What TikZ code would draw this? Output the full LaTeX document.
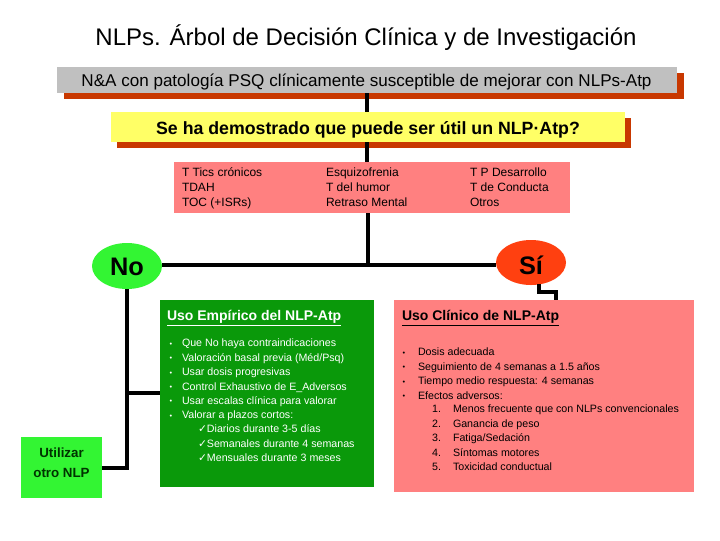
\documentclass[tikz,border=0pt]{standalone}
\usepackage{fontspec}
\setmainfont{Liberation Sans}
\newfontfamily\dejavu{DejaVu Sans}
\usetikzlibrary{shapes.geometric,calc}
\definecolor{grayBox}{RGB}{192,192,192}
\definecolor{shadowRed}{RGB}{200,56,0}
\definecolor{yellowBox}{RGB}{255,255,102}
\definecolor{pinkBox}{RGB}{255,128,128}
\definecolor{noGreen}{RGB}{51,245,51}
\definecolor{siRed}{RGB}{255,64,16}
\definecolor{darkGreen}{RGB}{10,153,10}
\definecolor{textGreen}{RGB}{0,51,0}
\begin{document}
\begin{tikzpicture}[x=0.75pt,y=-0.75pt,
  conn/.style={line width=2.4pt},
  box/.style={rectangle,draw=none,inner sep=0pt,outer sep=0pt},
  oval/.style={ellipse,draw=none,inner sep=0pt,outer sep=0pt,minimum width=52.5pt,minimum height=34.5pt},
  lbl/.style={inner sep=0pt,outer sep=0pt,text depth=0pt},
  ovtxt/.style={lbl,text height=13.7pt,font=\fontsize{19}{22}\selectfont\bfseries},
  txt/.style={lbl,anchor=west},
  body/.style={txt,text height=5.8pt,font=\fontsize{8}{9.6}\selectfont},
  small/.style={txt,text height=6.5pt,font=\fontsize{9}{11}\selectfont},
  bul/.style={inner sep=0pt,outer sep=0pt,font=\fontsize{5.5}{6}\selectfont},
  num/.style={lbl,anchor=east,text height=5.8pt,font=\fontsize{8}{9.6}\selectfont},
  head/.style={txt,text height=7.6pt,font=\fontsize{10.5}{12}\selectfont\bfseries}]
\useasboundingbox (0,0) rectangle (720,540);
\fill[white] (0,0) rectangle (720,540);

% title
\node[lbl,text height=13pt,font=\fontsize{18}{22}\selectfont] (title) at (366,37) {NLPs. Árbol de Decisión Clínica y de Investigación};

% shadows
\node[box,fill=shadowRed,minimum width=465pt,minimum height=19.5pt] (grayShadow) at (373.5,86) {};
\node[box,fill=shadowRed,minimum width=385.5pt,minimum height=22.5pt] (yellowShadow) at (374,133) {};

% boxes
\node[box,fill=grayBox,minimum width=465pt,minimum height=19.5pt] (gray) at (367,80) {};
\node[box,fill=yellowBox,minimum width=385.5pt,minimum height=22.5pt] (yellow) at (368,127) {};
\node[box,fill=pinkBox,minimum width=297pt,minimum height=38.25pt] (types) at (372,187.5) {};
\node[oval,fill=noGreen] (no) at (127,266) {};
\node[oval,fill=siRed,minimum height=33.75pt] (si) at (531,262.5) {};
\node[box,fill=darkGreen,minimum width=160.5pt,minimum height=140.25pt] (emp) at (267,393.5) {};
\node[box,fill=pinkBox,minimum width=225pt,minimum height=144pt] (clin) at (544,396) {};
\node[box,fill=noGreen,minimum width=60.75pt,minimum height=45.75pt] (otro) at (61.5,467.5) {};

% box texts
\node[lbl,text height=9.2pt,font=\fontsize{12.8}{15}\selectfont] (grayTxt) at (366.5,80) {N\&A con patología PSQ clínicamente susceptible de mejorar con NLPs-Atp};
\node[lbl,text height=9.6pt,font=\fontsize{13.3}{16}\selectfont\bfseries] (yellowTxt) at (368,128) {Se ha demostrado que puede ser útil un NLP·Atp?};
\node[ovtxt] (noTxt) at (127,266) {No};
\node[ovtxt] (siTxt) at (531,265) {Sí};
\node[lbl,text height=7.2pt,text=textGreen,font=\fontsize{10}{12}\selectfont\bfseries] (otroTxt1) at (61.5,453) {Utilizar};
\node[lbl,text height=7.2pt,text=textGreen,font=\fontsize{10}{12}\selectfont\bfseries] (otroTxt2) at (61.5,473) {otro NLP};

% connectors
\coordinate (j) at (368,265);
\coordinate (jn) at (127,393);
\coordinate (js) at (556,292);
\draw[conn] (gray.south -| 367,0) -- (yellow.north -| 367,0);
\draw[conn] (yellow.south -| 367,0) -- (types.north -| 367,0);
\draw[conn] (types.south -| j) -- (j);
\draw[conn] (no.east |- j) -- (j) -- (si.west |- j);
\draw[conn] (no.south) -- (no.south |- 0,468) -- (otro.east |- 0,468);
\draw[conn] (jn) -- (emp.west |- jn);
\draw[conn] (si.290) |- (js) -- (js |- clin.north);

% types text
\node[small] (ta1) at (182,172) {T Tics crónicos};
\node[small] (ta2) at (182,187) {TDAH};
\node[small] (ta3) at (182,202) {TOC (+ISRs)};
\node[small] (tb1) at (326,172) {Esquizofrenia};
\node[small] (tb2) at (326,187) {T del humor};
\node[small] (tb3) at (326,202) {Retraso Mental};
\node[small] (tc1) at (470,172) {T P Desarrollo};
\node[small] (tc2) at (470,187) {T de Conducta};
\node[small] (tc3) at (470,202) {Otros};

% empirical box text
\node[head,text=white] (empHead) at (167,315) {\underline{Uso Empírico del NLP-Atp}};
\foreach \t [count=\i] in {Que No haya contraindicaciones,Valoración basal previa (Méd/Psq),Usar dosis progresivas,Control Exhaustivo de E\_Adversos,Usar escalas clínica para valorar,Valorar a plazos cortos:}{
  \node[bul,text=white] (empBul\i) at (171,{344.5+(\i-1)*14.4}) {•};
  \node[body,text=white] (empItem\i) at (182,{343+(\i-1)*14.4}) {\t};
}
\node[body,text=white] (chk1) at (198,429) {{\dejavu ✓}Diarios durante 3-5 días};
\node[body,text=white] (chk2) at (198,444) {{\dejavu ✓}Semanales durante 4 semanas};
\node[body,text=white] (chk3) at (198,458) {{\dejavu ✓}Mensuales durante 3 meses};

% clinical box text
\node[head] (clinHead) at (402,315) {\underline{Uso Clínico de NLP-Atp}};
\foreach \t [count=\i] in {Dosis adecuada,Seguimiento de 4 semanas a 1.5 años,Tiempo medio respuesta: 4 semanas,Efectos adversos:}{
  \node[bul] (clinBul\i) at (404,{353.5+(\i-1)*14.5}) {•};
  \node[body] (clinItem\i) at (418,{352+(\i-1)*14.5}) {\t};
}
\foreach \t [count=\i] in {Menos frecuente que con NLPs convencionales,Ganancia de peso,Fatiga/Sedación,Síntomas motores,Toxicidad conductual}{
  \node[num] (clinNum\i) at (441,{409+(\i-1)*14.5}) {\i.};
  \node[body] (clinSub\i) at (453,{409+(\i-1)*14.5}) {\t};
}
\end{tikzpicture}
\end{document}
